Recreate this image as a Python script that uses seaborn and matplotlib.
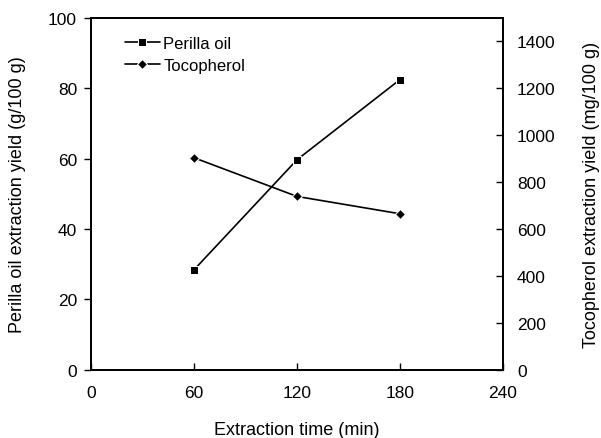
import pandas as pd
import seaborn as sns
import matplotlib
matplotlib.use("Agg")
import matplotlib.pyplot as plt

# Datos
time_min = [60, 120, 180]
perilla_oil = [28.4, 59.7, 82.5]      # g/100 g
tocopherol = [904, 739, 665]          # mg/100 g
x_ticks = [0, 60, 120, 180, 240]
left_ticks = [0, 20, 40, 60, 80, 100]
right_ticks = [0, 200, 400, 600, 800, 1000, 1200, 1400]

df_oil = pd.DataFrame({"time": time_min, "yield": perilla_oil})
df_toc = pd.DataFrame({"time": time_min, "yield": tocopherol})

sns.set_style("ticks")
plt.rcParams["font.family"] = ["Liberation Sans", "DejaVu Sans"]
plt.rcParams["text.color"] = "black"
plt.rcParams["axes.labelcolor"] = "black"
plt.rcParams["xtick.color"] = "black"
plt.rcParams["ytick.color"] = "black"

fig = plt.figure(figsize=(6.01, 4.39), dpi=100)
ax = fig.add_axes([0.1514, 0.1556, 0.6856, 0.8011])
ax2 = ax.twinx()

sns.lineplot(data=df_oil, x="time", y="yield", ax=ax, color="black",
             marker="s", markersize=6, linewidth=1.2, label="Perilla oil",
             legend=False)
sns.lineplot(data=df_toc, x="time", y="yield", ax=ax2, color="black",
             marker="D", markersize=5, linewidth=1.2, label="Tocopherol",
             legend=False)

ax.set_xlim(0, 240)
ax.set_ylim(0, 100)
ax2.set_ylim(0, 1500)
ax.set_xticks(x_ticks)
ax.set_yticks(left_ticks)
ax2.set_yticks(right_ticks)

ax.set_xlabel("Extraction time (min)", fontsize=13, labelpad=15)
ax.set_ylabel("Perilla oil extraction yield (g/100 g)", fontsize=13, labelpad=16)
ax2.set_ylabel("Tocopherol extraction yield (mg/100 g)", fontsize=13,
               rotation=90, labelpad=20)

ax.tick_params(axis="y", direction="out", length=5, width=1, labelsize=12.5, pad=5)
ax.tick_params(axis="x", direction="in", length=5, width=1, labelsize=12.5, pad=11)
ax2.tick_params(axis="y", direction="in", length=5, width=1, labelsize=12.5, pad=10)

for a in (ax, ax2):
    for s in a.spines.values():
        s.set_visible(True)
        s.set_linewidth(1.3)
        s.set_color("black")

h1, l1 = ax.get_legend_handles_labels()
h2, l2 = ax2.get_legend_handles_labels()
ax.legend(h1 + h2, l1 + l2, loc="upper left", bbox_to_anchor=(0.0825, 0.95),
          frameon=False, fontsize=12, handlelength=2.1, handletextpad=0.2,
          labelspacing=0.45, borderaxespad=0, borderpad=0)

fig.savefig("out.png", dpi=100)
